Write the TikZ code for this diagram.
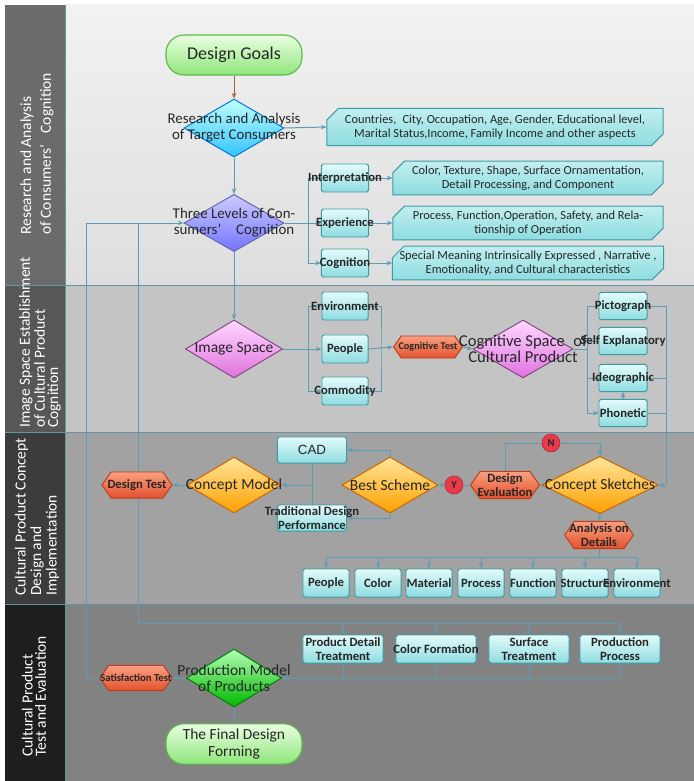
\documentclass[tikz,border=0pt]{standalone}
\usepackage{fontspec}
\setmainfont{Carlito}
\newfontfamily\cadfont{Liberation Sans}
\usetikzlibrary{shapes.geometric,shapes.misc,shapes.symbols,arrows.meta}

\definecolor{linec}{HTML}{5B9DB5}
\definecolor{boxtop}{HTML}{E4FBFB}
\definecolor{boxbot}{HTML}{8EDCE0}
\definecolor{boxline}{HTML}{3E9BA3}
\definecolor{hextop}{HTML}{F9A080}
\definecolor{hexbot}{HTML}{E4522E}
\definecolor{hexline}{HTML}{B8401F}
\definecolor{pilltop}{HTML}{EAFFE2}
\definecolor{pillbot}{HTML}{8EE67A}
\definecolor{pillline}{HTML}{5CB84A}
\definecolor{ynred}{HTML}{E83A48}
\definecolor{ynline}{HTML}{B82030}
\definecolor{laneAtop}{HTML}{F2F2F2}
\definecolor{laneAbot}{HTML}{DEDEDE}
\definecolor{laneB}{HTML}{C4C4C4}
\definecolor{laneC}{HTML}{A2A2A2}
\definecolor{laneD}{HTML}{828282}
\definecolor{headA}{HTML}{6B6B6B}
\definecolor{headB}{HTML}{575757}
\definecolor{headC}{HTML}{3C3C3C}
\definecolor{headD}{HTML}{1E1E1E}

\pgfdeclarelayer{lanes}
\pgfdeclarelayer{links}
\pgfsetlayers{lanes,links,main}

\tikzset{
  lanetext/.style={text=white, rotate=90, anchor=west, align=left, inner sep=0pt},
  link/.style={draw=linec, line width=0.7pt},
  tip/.style={-{Stealth[length=4pt,width=3.2pt]}},
  cbox/.style={rectangle, draw=boxline, line width=0.7pt, top color=boxtop, bottom color=boxbot,
    rounded corners=1.2pt, inner sep=0pt, align=center, text=black!85,
    font=\fontsize{9}{10}\selectfont\bfseries},
  tagbox/.style={chamfered rectangle, chamfered rectangle corners={north west,south east},
    chamfered rectangle xsep=5pt, draw=boxline, line width=0.7pt, top color=boxtop!60!boxbot,
    bottom color=boxbot, inner sep=0pt, align=center, text=black!85,
    font=\fontsize{8.8}{10}\selectfont},
  hexa/.style={signal, signal to=east and west, signal pointer angle=110, draw=hexline,
    line width=0.7pt, top color=hextop, bottom color=hexbot, inner sep=0pt, align=center,
    text=black!85, font=\fontsize{9}{9.5}\selectfont\bfseries},
  diam/.style={diamond, inner sep=0pt, line width=0.7pt},
  dtext/.style={align=center, text=black!85, font=\fontsize{10.6}{11.5}\selectfont},
  bluediam/.style={diam, draw=blue!40!cyan!80!black, top color=cyan!25, bottom color=cyan!70!blue!80},
  violetdiam/.style={diam, draw=blue!50!black!60, top color=blue!20!white, bottom color=blue!55!white},
  purplediam/.style={diam, draw=violet!60!black!70, top color=magenta!15!white, bottom color=violet!45!magenta!55},
  orangediam/.style={diam, draw=orange!80!black, top color=yellow!50!orange!40, bottom color=orange!75!yellow},
  greendiam/.style={diam, draw=green!50!black, top color=green!30!white, bottom color=green!60!black!70!green},
  pill/.style={rectangle, rounded corners=0.45cm, draw=pillline, line width=0.8pt, top color=pilltop,
    bottom color=pillbot, minimum width=3.4cm, align=center, text=black!85},
  ynball/.style={circle, fill=ynred, draw=ynline, minimum size=0.45cm, inner sep=0pt,
    font=\fontsize{7.5}{7.5}\selectfont\bfseries, text=black!85}
}

\newcommand{\ov}[1]{\makebox[0pt]{#1}}

\begin{document}
\begin{tikzpicture}[x=0.025cm,y=-0.025cm]
\useasboundingbox (0,0) rectangle (694,781);
\begin{pgfonlayer}{lanes}
\fill[white] (0,0) rectangle (694,781);
\shade[top color=laneAtop,bottom color=laneAbot] (65,5) rectangle (694,285);
\fill[laneB] (65,285) rectangle (694,432);
\fill[laneC] (65,432) rectangle (694,604);
\fill[laneD] (65,604) rectangle (694,781);
\fill[headA] (5,5) rectangle (65,285);
\fill[headB] (5,285) rectangle (65,432);
\fill[headC] (5,432) rectangle (65,604);
\fill[headD] (5,604) rectangle (65,781);
\draw[linec!70!gray, line width=0.5pt] (5,285) -- (694,285) (5,432) -- (694,432) (5,604) -- (694,604) (65,5) -- (65,781);
\end{pgfonlayer}

\node[lanetext, font=\fontsize{11}{14}\selectfont] (laneA) at (37,235) {Research and Analysis\\of Consumers’\enspace\ Cognition};
\node[lanetext, font=\fontsize{11}{9.5}\selectfont] (laneB) at (40,428) {Image Space Establishment\\of Cultural Product\\Cognition};
\node[lanetext, font=\fontsize{11}{11}\selectfont] (laneC) at (37,596) {Cultural Product Concept\\Design and\\Implementation};
\node[lanetext, font=\fontsize{11}{9.5}\selectfont] (laneD) at (34,757) {Cultural Product\\Test and Evaluation};

\node[pill, minimum height=1.0cm, font=\fontsize{12.8}{14}\selectfont] (goals) at (234,55) {Design Goals};
\node[bluediam, minimum width=2.5cm, minimum height=1.45cm,
  label={[dtext]center:{Research and Analysis\\of Target Consumers}}] (research) at (234,128) {};
\node[violetdiam, minimum width=2.5cm, minimum height=1.43cm,
  label={[dtext]center:{Three Levels of Con-\\sumers’\quad Cognition}}] (levels) at (234,223) {};
\node[tagbox, minimum width=8.4cm, minimum height=0.93cm] (countries) at (495,127)
  {Countries,\enspace City, Occupation, Age, Gender, Educational level,\\Marital Status,Income, Family Income and other aspects};

\node[cbox, minimum width=1.18cm, minimum height=0.7cm] (interp) at (345,178) {\ov{Interpretation}};
\node[cbox, minimum width=1.18cm, minimum height=0.7cm] (exper) at (345,223) {\ov{Experience}};
\node[cbox, minimum width=1.18cm, minimum height=0.7cm] (cogn) at (345,263) {\ov{Cognition}};
\node[tagbox, minimum width=6.75cm, minimum height=0.7cm] (interpd) at (528,178)
  {Color, Texture, Shape, Surface Ornamentation,\\Detail Processing, and Component};
\node[tagbox, minimum width=6.75cm, minimum height=0.7cm] (experd) at (528,223)
  {Process, Function,Operation, Safety, and Rela-\\tionship of Operation};
\node[tagbox, minimum width=6.75cm, minimum height=0.7cm] (cognd) at (528,263)
  {Special Meaning Intrinsically Expressed , Narrative ,\\Emotionality, and Cultural characteristics};

\node[purplediam, minimum width=2.43cm, minimum height=1.45cm,
  label={[dtext, font=\fontsize{11}{12}\selectfont]center:{Image Space}}] (imgsp) at (234,349) {};
\node[cbox, minimum width=1.15cm, minimum height=0.7cm] (env) at (345,306) {\ov{Environment}};
\node[cbox, minimum width=1.15cm, minimum height=0.7cm] (peop) at (345,349) {\ov{People}};
\node[cbox, minimum width=1.15cm, minimum height=0.7cm] (comm) at (345,391) {\ov{Commodity}};
\node[hexa, minimum width=1.72cm, minimum height=0.55cm, font=\fontsize{7.3}{8}\selectfont\bfseries] (cogtest) at (428,347) {\ov{Cognitive Test}};
\node[purplediam, minimum width=2.5cm, minimum height=1.45cm,
  label={[dtext, font=\fontsize{11.8}{11.5}\selectfont]center:{Cognitive Space\enspace of\\Cultural Product}}] (cogsp) at (523,349) {};
\node[cbox, minimum width=1.2cm, minimum height=0.68cm] (pict) at (623,306) {\ov{Pictograph}};
\node[cbox, minimum width=1.2cm, minimum height=0.68cm] (self) at (623,341) {\ov{Self Explanatory}};
\node[cbox, minimum width=1.2cm, minimum height=0.68cm] (ideo) at (623,378) {\ov{Ideographic}};
\node[cbox, minimum width=1.2cm, minimum height=0.68cm] (phon) at (623,413) {\ov{Phonetic}};

\node[cbox, minimum width=1.73cm, minimum height=0.65cm, font=\fontsize{9.5}{10}\cadfont] (cad) at (312,450) {CAD};
\node[cbox, minimum width=1.73cm, minimum height=0.65cm] (trad) at (312,518) {\ov{Traditional Design}\\\ov{Performance}};
\node[orangediam, minimum width=2.35cm, minimum height=1.4cm,
  label={[dtext, font=\fontsize{11}{12}\selectfont]center:{Concept Model}}] (cmodel) at (234,485) {};
\node[hexa, minimum width=1.75cm, minimum height=0.65cm] (dtest) at (137,485) {\ov{Design Test}};
\node[orangediam, minimum width=2.4cm, minimum height=1.4cm,
  label={[dtext, font=\fontsize{11}{12}\selectfont]center:{Best Scheme}}] (best) at (390,485) {};
\node[hexa, minimum width=1.72cm, minimum height=0.68cm] (deval) at (505,485) {\ov{Design}\\\ov{Evaluation}};
\node[orangediam, minimum width=2.9cm, minimum height=1.43cm,
  label={[dtext, font=\fontsize{11}{12}\selectfont]center:{Concept Sketches}}] (sketch) at (600,485) {};
\node[hexa, minimum width=1.72cm, minimum height=0.68cm] (analysis) at (599,535) {\ov{Analysis on}\\\ov{Details}};
\node[cbox, minimum width=1.15cm, minimum height=0.7cm] (bpeop) at (326,583) {\ov{People}};
\node[cbox, minimum width=1.15cm, minimum height=0.7cm] (bcolor) at (378,583) {\ov{Color}};
\node[cbox, minimum width=1.15cm, minimum height=0.7cm] (bmat) at (429,583) {\ov{Material}};
\node[cbox, minimum width=1.15cm, minimum height=0.7cm] (bproc) at (481,583) {\ov{Process}};
\node[cbox, minimum width=1.15cm, minimum height=0.7cm] (bfunc) at (533,583) {\ov{Function}};
\node[cbox, minimum width=1.15cm, minimum height=0.7cm] (bstruc) at (585,583) {\ov{Structure}};
\node[cbox, minimum width=1.15cm, minimum height=0.7cm] (benv) at (637,583) {\ov{Environment}};

\node[cbox, minimum width=2cm, minimum height=0.7cm] (pdetail) at (343,649) {\ov{Product Detail}\\\ov{Treatment}};
\node[cbox, minimum width=2cm, minimum height=0.7cm] (pcolor) at (436,649) {\ov{Color Formation}};
\node[cbox, minimum width=2cm, minimum height=0.7cm] (psurf) at (529,649) {\ov{Surface}\\\ov{Treatment}};
\node[cbox, minimum width=2cm, minimum height=0.7cm] (pproc) at (620,649) {\ov{Production}\\\ov{Process}};
\node[greendiam, minimum width=2.38cm, minimum height=1.45cm,
  label={[dtext, font=\fontsize{11}{11.5}\selectfont]center:{Production Model\\of Products}}] (pmodel) at (234,678) {};
\node[hexa, minimum width=1.8cm, minimum height=0.63cm, font=\fontsize{7.6}{8}\selectfont\bfseries] (sat) at (136,678) {\ov{Satisfaction Test}};
\node[pill, minimum height=0.95cm, font=\fontsize{11}{12.5}\selectfont] (final) at (234,744) {The Final Design\\Forming};

\coordinate (b1) at (308,223);
\coordinate (b2) at (308,349);
\coordinate (b3) at (381,349);
\coordinate (b4) at (587,349);
\coordinate (b5) at (666,485);
\coordinate (b6) at (599,557);
\coordinate (nloop) at (505,443);
\coordinate (cadbus) at (312,485);
\coordinate (fbl) at (86,223);
\coordinate (fbr) at (138,223);
\coordinate (tb) at (138,623);
\coordinate (bb) at (620,678);

\begin{pgfonlayer}{links}
\draw[-{Stealth[length=4pt,width=3.2pt]}, draw=brown!80!black, line width=0.7pt] (goals) -- (research);
\draw[link,tip] (research) -- (levels);
\draw[link,tip] (research.east) -- (countries.west);
\draw[link,tip] (levels.east) -- (exper.west);
\draw[link,tip] (b1) |- (interp.west);
\draw[link,tip] (b1) |- (cogn.west);
\draw[link,tip] (interp.east) -- (interpd.west);
\draw[link,tip] (exper.east) -- (experd.west);
\draw[link,tip] (cogn.east) -- (cognd.west);
\draw[link,tip] (levels) -- (imgsp);
\draw[link] (imgsp.east) -- (b2);
\draw[link,tip] (b2) -- (peop.west);
\draw[link,tip] (b2) |- (env.west);
\draw[link,tip] (b2) |- (comm.west);
\draw[link] (env.east) -| (b3) |- (comm.east);
\draw[link,tip] (peop.east) -- (cogtest.west);
\draw[link,tip] (cogtest.east) -- (cogsp.west);
\draw[link] (cogsp.east) -- (b4);
\draw[link] (b4) |- (pict.west);
\draw[link] (b4) |- (self.west);
\draw[link] (b4) |- (ideo.west);
\draw[link,tip] (b4) |- (phon.west);
\draw[link,tip] (phon) -- (ideo);
\draw[link] (pict.east) -| (b5);
\draw[link] (ideo.east) -| (b5);
\draw[link] (phon.east) -| (b5);
\draw[link,tip] (b5) -- (sketch.east);
\draw[link,tip] (sketch.west) -- (deval.east);
\draw[link,tip] (deval.west) -- (best.east);
\draw[link,tip] (deval.north) -- (nloop) -| (sketch.north);
\draw[link,tip] (best.north) |- (cad.east);
\draw[link,tip] (best.south) |- (trad.east);
\draw[link] (cad) -- (trad);
\draw[link,tip] (cadbus) -- (cmodel.east);
\draw[link,tip] (cmodel.west) -- (dtest.east);
\draw[link,tip] (sketch.south) -- (analysis.north);
\draw[link] (analysis.south) -- (b6);
\draw[link] (b6 -| bpeop) -- (b6 -| benv);
\foreach \n in {bpeop,bcolor,bmat,bproc,bfunc,bstruc,benv}
  \draw[link,tip] (b6 -| \n) -- (\n.north);
\draw[link,tip] (sat.west) -| (fbl) -- (levels.west);
\draw[link] (fbr) -- (tb) -- (tb -| pproc);
\foreach \n in {pdetail,pcolor,psurf,pproc}{
  \draw[link,tip] (tb -| \n) -- (\n.north);
  \draw[link] (\n.south) -- (bb -| \n);
}
\draw[link] (bb -| pdetail) -- (bb);
\draw[link,tip] (bb -| pdetail) -- (pmodel.east);
\draw[link,tip] (pmodel.west) -- (sat.east);
\draw[link] (pmodel) -- (final);
\end{pgfonlayer}

\node[ynball] (yes) at (454,485) {Y};
\node[ynball] (no) at (551,443) {N};
\end{tikzpicture}
\end{document}
